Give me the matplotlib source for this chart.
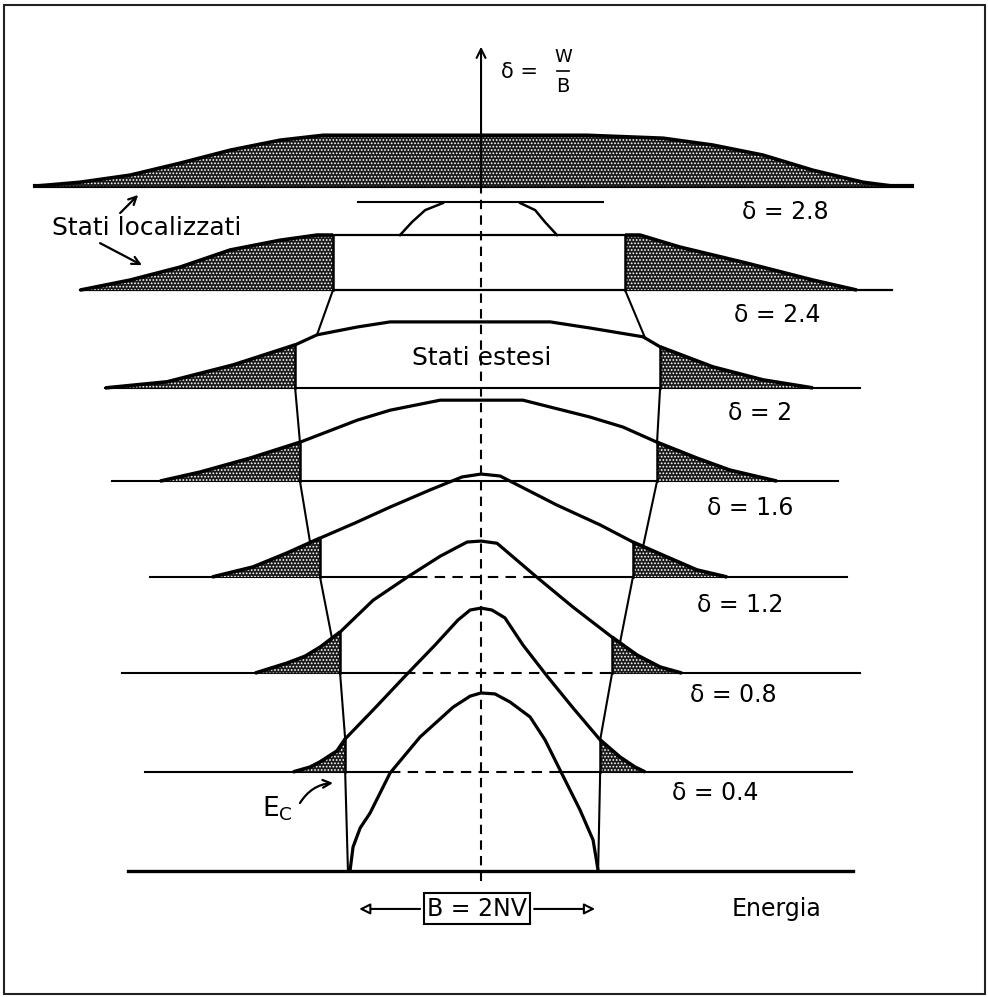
import numpy as np
import matplotlib
matplotlib.use("Agg")
import matplotlib.pyplot as plt
from matplotlib.patches import Rectangle

plt.rcParams['font.family'] = ['DejaVu Sans']
plt.rcParams['hatch.linewidth'] = 0.8

# ---------------------------------------------------------------------------
# Anderson model: density of states for increasing disorder delta = W/B.
# Energy in units of the bandwidth B = 2NV (band centre at E = 0),
# vertical axis in units of delta (each curve sits on its own baseline).
# ---------------------------------------------------------------------------
delta_values = [0.0, 0.4, 0.8, 1.2, 1.6, 2.0, 2.4, 2.8]
row_offset = [0.0, 0.405, 0.809, 1.202, 1.594, 1.975, 2.375, 2.800]

# extent of each baseline
base_left = [-1.390, -1.323, -1.413, -1.303, -1.453, -1.480, -1.579, -1.756]
base_right = [1.465, 1.461, 1.492, 1.441, 1.406, 1.492, 1.618, 1.697]

# parts of a baseline hidden behind the band drawn in front of it
hidden_span = {1: (-0.358, 0.311), 2: (-0.299, 0.508), 3: (-0.252, 0.193)}

# extended states (between the two mobility edges)
ext_E = [
    [-0.516, -0.504, -0.476, -0.437, -0.358, -0.240, -0.110, -0.043, 0.0,
     0.055, 0.114, 0.193, 0.252, 0.311, 0.390, 0.441, 0.453, 0.461],
    [-0.535, -0.417, -0.299, -0.181, -0.091, -0.043, 0.0, 0.043, 0.094,
     0.165, 0.260, 0.362, 0.469],
    [-0.555, -0.425, -0.291, -0.161, -0.055, 0.0, 0.063, 0.220, 0.362, 0.516],
    [-0.634, -0.496, -0.358, -0.201, -0.075, 0.0, 0.075, 0.299, 0.469, 0.598],
    [-0.713, -0.488, -0.358, -0.161, 0.0, 0.165, 0.429, 0.559, 0.693],
    [-0.732, -0.646, -0.488, -0.358, 0.0, 0.272, 0.429, 0.638, 0.705],
    [-0.583, 0.567],
    [],
]
ext_g = [
    [0.0, 0.098, 0.176, 0.237, 0.401, 0.548, 0.670, 0.715, 0.728,
     0.724, 0.691, 0.630, 0.536, 0.413, 0.249, 0.127, 0.053, 0.0],
    [0.135, 0.262, 0.392, 0.519, 0.621, 0.662, 0.670, 0.662, 0.630,
     0.519, 0.392, 0.262, 0.131],
    [0.168, 0.298, 0.392, 0.478, 0.536, 0.540, 0.531, 0.392, 0.270, 0.147],
    [0.159, 0.221, 0.286, 0.356, 0.409, 0.421, 0.413, 0.294, 0.213, 0.143],
    [0.159, 0.249, 0.290, 0.331, 0.331, 0.331, 0.262, 0.221, 0.159],
    [0.176, 0.217, 0.249, 0.270, 0.270, 0.270, 0.245, 0.209, 0.168],
    [0.225, 0.225],
    [],
]

# localized tail below the lower mobility edge
tailL_E = [
    [],
    [-0.740, -0.673, -0.634, -0.567, -0.535],
    [-0.890, -0.764, -0.693, -0.634, -0.555],
    [-1.059, -0.898, -0.764, -0.634],
    [-1.264, -1.106, -0.909, -0.713],
    [-1.480, -1.236, -0.976, -0.732],
    [-1.579, -1.382, -1.185, -0.988, -0.791, -0.646, -0.583],
    [-1.756, -1.579, -1.382, -1.185, -0.988, -0.791, -0.622, 0.417,
     0.717, 0.913, 1.110, 1.307, 1.504, 1.622],
]
tailL_g = [
    [],
    [0.0, 0.020, 0.041, 0.086, 0.135],
    [0.0, 0.041, 0.069, 0.106, 0.168],
    [0.0, 0.041, 0.098, 0.159],
    [0.0, 0.037, 0.094, 0.159],
    [0.0, 0.025, 0.094, 0.176],
    [0.0, 0.041, 0.094, 0.164, 0.204, 0.225, 0.225],
    [0.0, 0.016, 0.045, 0.094, 0.147, 0.188, 0.208, 0.208,
     0.196, 0.168, 0.127, 0.065, 0.016, 0.0],
]

# localized tail above the upper mobility edge
tailR_E = [
    [],
    [0.469, 0.547, 0.606, 0.646],
    [0.516, 0.614, 0.705, 0.791],
    [0.598, 0.732, 0.850, 0.969],
    [0.693, 0.850, 0.980, 1.165],
    [0.705, 0.913, 1.110, 1.307],
    [0.567, 0.626, 0.783, 1.047, 1.307, 1.480],
    [],
]
tailR_g = [
    [],
    [0.131, 0.061, 0.020, 0.0],
    [0.147, 0.074, 0.025, 0.0],
    [0.143, 0.082, 0.029, 0.0],
    [0.159, 0.094, 0.045, 0.0],
    [0.168, 0.086, 0.033, 0.0],
    [0.225, 0.225, 0.176, 0.110, 0.041, 0.0],
    [],
]

# where the mobility-edge trajectory meets the curve of the row below
land_left = [None, -0.524, -0.535, -0.587, -0.673, -0.713, -0.646]
land_right = [None, 0.461, 0.469, 0.547, 0.638, 0.693, 0.646]

# mobility edges merging at the band centre (critical disorder)
arch_left_E = [-0.319, -0.272, -0.220, -0.150]
arch_left_y = [2.600, 2.653, 2.702, 2.731]
arch_right_E = [0.154, 0.213, 0.252, 0.299]
arch_right_y = [2.731, 2.702, 2.653, 2.600]
critical_level = 2.735
critical_span = (-0.484, 0.480)

# ---------------------------------------------------------------------------
fig = plt.figure(figsize=(9.88, 9.97), dpi=100)
ax = fig.add_axes([0, 0, 1, 1])
ax.set_xlim(-1.894, 1.996)
ax.set_ylim(-0.515, 3.561)
ax.axis('off')

INK = 'black'
SHADE = '#1a1a1a'
base_lw = [2.4, 1.5, 1.5, 1.5, 1.5, 1.5, 1.6, 3.0]


def profile(i):
    E = list(tailL_E[i]) + list(ext_E[i]) + list(tailR_E[i])
    g = list(tailL_g[i]) + list(ext_g[i]) + list(tailR_g[i])
    order = np.argsort(E, kind='stable')
    return np.asarray(E)[order], np.asarray(g)[order]


def shade(E, g, off):
    E = np.asarray(E)
    top = off + np.asarray(g)
    ax.fill_between(E, off, top, facecolor=SHADE, edgecolor='white',
                    hatch='.....', linewidth=0, zorder=3)
    ax.plot(E, top, color=INK, lw=2.6, solid_capstyle='butt', zorder=4)


for i, off in enumerate(row_offset):
    # baseline (dashed where it passes behind a band)
    b0, b1 = base_left[i], base_right[i]
    if i in hidden_span:
        h0, h1 = hidden_span[i]
        ax.plot([b0, h0], [off, off], color=INK, lw=base_lw[i], zorder=2)
        ax.plot([h1, b1], [off, off], color=INK, lw=base_lw[i], zorder=2)
        ax.plot([h0, h1], [off, off], color=INK, lw=base_lw[i],
                dashes=(5, 3.5), zorder=2)
    else:
        ax.plot([b0, b1], [off, off], color=INK, lw=base_lw[i], zorder=2)

    if tailL_E[i]:
        shade(tailL_E[i], tailL_g[i], off)
    if tailR_E[i]:
        shade(tailR_E[i], tailR_g[i], off)

    if ext_E[i]:
        E = np.asarray(ext_E[i])
        top = off + np.asarray(ext_g[i])
        ax.plot(E, top, color=INK, lw=2.3 if i < 6 else 1.6, zorder=5)
        if i > 0:
            # mobility edges
            for k in (0, -1):
                ax.plot([E[k], E[k]], [off, top[k]], color=INK, lw=1.8,
                        zorder=5)

# trajectory of the mobility edges between consecutive rows
for i in range(1, 7):
    Ep, gp = profile(i - 1)
    off_lo = row_offset[i - 1]
    for edge, land in ((ext_E[i][0], land_left[i]), (ext_E[i][-1], land_right[i])):
        y_land = off_lo + np.interp(land, Ep, gp, left=0.0, right=0.0)
        ax.plot([edge, land], [row_offset[i], y_land], color=INK, lw=1.5,
                zorder=4)

ax.plot(arch_left_E, arch_left_y, color=INK, lw=1.8, zorder=4)
ax.plot(arch_right_E, arch_right_y, color=INK, lw=1.8, zorder=4)
ax.plot(critical_span, [critical_level] * 2, color=INK, lw=1.5, zorder=4)

# central axis: dashed inside the stack, solid arrow above it
ax.plot([0, 0], [-0.04, row_offset[-1]], color=INK, lw=1.5,
        dashes=(4.5, 3), zorder=6)
ax.annotate('', xy=(0, 3.37), xytext=(0, row_offset[-1] - 0.01),
            arrowprops=dict(arrowstyle='->', lw=1.5, color=INK,
                            mutation_scale=16, shrinkA=0, shrinkB=0),
            zorder=6)

# axis label  delta = W / B
ax.text(0.150, 3.267, 'δ =', fontsize=15, ha='center', va='center')
ax.text(0.323, 3.330, 'W', fontsize=13, ha='center', va='center')
ax.text(0.323, 3.207, 'B', fontsize=14, ha='center', va='center')
ax.plot([0.300, 0.346], [3.270, 3.270], color=INK, lw=1.2)

# row labels
label_pos = [None, (0.921, 0.319), (0.992, 0.720), (1.020, 1.087),
             (1.059, 1.484), (1.098, 1.872), (1.165, 2.273), (1.197, 2.694)]
for i in range(1, len(delta_values)):
    x, y = label_pos[i]
    ax.text(x, y, f'δ = {delta_values[i]:g}', fontsize=17, ha='center',
            va='center')

ax.text(0.004, 2.097, 'Stati estesi', fontsize=18, ha='center', va='center',
        zorder=7)
ax.text(-1.315, 2.629, 'Stati localizzati', fontsize=18, ha='center',
        va='center')
ax.annotate('', xy=(-1.350, 2.764), xytext=(-1.421, 2.690),
            arrowprops=dict(arrowstyle='->', lw=1.6, color=INK,
                            mutation_scale=14, shrinkA=0, shrinkB=0))
ax.annotate('', xy=(-1.335, 2.477), xytext=(-1.500, 2.567),
            arrowprops=dict(arrowstyle='->', lw=1.6, color=INK,
                            mutation_scale=14, shrinkA=0, shrinkB=0))

# mobility edge label
ax.text(-0.800, 0.255, r'E$_{\mathregular{C}}$', fontsize=19, ha='center',
        va='center')
ax.annotate('', xy=(-0.583, 0.360), xytext=(-0.713, 0.278),
            arrowprops=dict(arrowstyle='->', lw=1.6, color=INK,
                            mutation_scale=14, shrinkA=0, shrinkB=0,
                            connectionstyle='arc3,rad=-0.25'))

# bandwidth marker
ax.text(-0.016, -0.155, 'B = 2NV', fontsize=17, ha='center', va='center',
        bbox=dict(boxstyle='square,pad=0.15', fc='white', ec=INK, lw=1.5))
for x0, x1 in ((-0.240, -0.480), (0.209, 0.449)):
    ax.annotate('', xy=(x1, -0.155), xytext=(x0, -0.155),
                arrowprops=dict(arrowstyle='-|>', lw=1.5, color=INK,
                                fc='white', mutation_scale=16,
                                shrinkA=0, shrinkB=0))
ax.text(1.165, -0.155, 'Energia', fontsize=17, ha='center', va='center')

# frame
ax.add_patch(Rectangle((0.004, 0.003), 0.993, 0.992, transform=ax.transAxes,
                       fill=False, ec='#222222', lw=1.5, zorder=10))

fig.savefig('out.png', dpi=100)
